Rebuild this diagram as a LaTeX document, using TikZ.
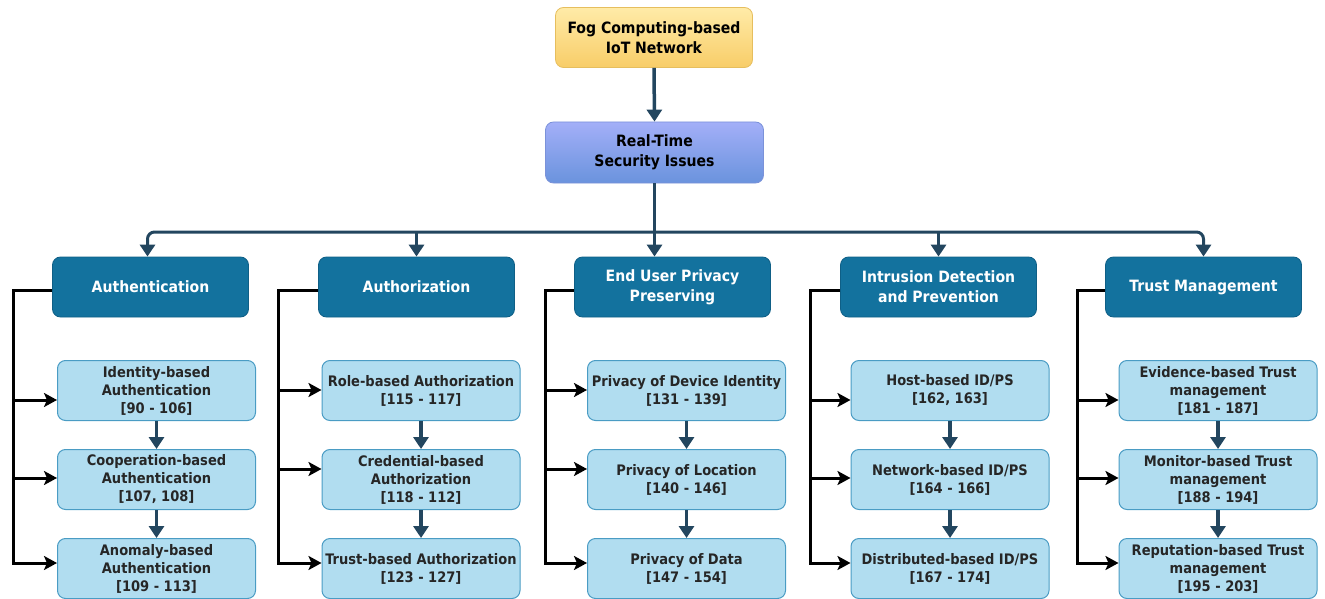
\documentclass[tikz,border=0pt]{standalone}
\usepackage{fontspec}
\setmainfont{DejaVu Sans Condensed}[BoldFont={DejaVu Sans Condensed Bold}]
\usetikzlibrary{arrows.meta,calc}
\definecolor{navy}{HTML}{23465F}
\definecolor{catblue}{HTML}{13729E}
\definecolor{catedge}{HTML}{0F5F86}
\definecolor{leaf}{HTML}{B1DDF0}
\definecolor{leafedge}{HTML}{4A9CC4}
\definecolor{fogtop}{HTML}{FFEBA8}
\definecolor{fogbot}{HTML}{F8CD68}
\definecolor{fogedge}{HTML}{E6BE5E}
\definecolor{rttop}{HTML}{A3AFF8}
\definecolor{rtbot}{HTML}{6A93DD}
\definecolor{rtedge}{HTML}{7B92D9}
\tikzset{
  x=1pt, y=-1pt,
  box/.style={rounded corners=8pt, align=center, inner sep=1pt, font=\bfseries},
  topbox/.style={box, draw=fogedge, line width=0.8pt, top color=fogtop, bottom color=fogbot,
    minimum width=197pt, minimum height=60pt, font=\fontsize{15.6}{20}\selectfont\bfseries},
  rtbox/.style={box, draw=rtedge, line width=0.8pt, top color=rttop, bottom color=rtbot,
    minimum width=218pt, minimum height=61pt, font=\fontsize{15.6}{20}\selectfont\bfseries},
  catbox/.style={box, draw=catedge, line width=0.8pt, fill=catblue, text=white,
    minimum width=196pt, minimum height=60pt, font=\fontsize{15.6}{20}\selectfont\bfseries},
  leafbox/.style={box, draw=leafedge, line width=1pt, fill=leaf, text=black!85,
    minimum width=198pt, minimum height=60pt, font=\fontsize{14.5}{18}\selectfont\bfseries},
  flow/.style={draw=navy, line width=3.5pt, -{Triangle[length=12pt,width=15pt]}},
  busline/.style={draw=navy, line width=3pt},
  railarrow/.style={draw=black, line width=3pt, -{Stealth[length=13pt,width=14pt,inset=3pt]}},
}
\begin{document}
\begin{tikzpicture}
\useasboundingbox (0,0) rectangle (1325,599);

% top of the hierarchy
\node[topbox] (fog) at (654,37.5) {Fog Computing-based\\IoT Network};
\node[rtbox] (rt) at (654.5,152.5) {Real-Time\\Security Issues};

% security categories
\node[catbox] (c1) at (150.5,287) {Authentication};
\node[catbox] (c2) at (416.5,287) {Authorization};
\node[catbox] (c3) at (672.5,287) {End User Privacy\\Preserving};
\node[catbox] (c4) at (938.5,287) {Intrusion Detection\\and Prevention};
\node[catbox] (c5) at (1203.5,287) {Trust Management};

% authentication schemes
\node[leafbox] (c1a) at (156.5,390.5) {Identity-based\\Authentication\\{[90 - 106]}};
\node[leafbox] (c1b) at (156.5,479.5) {Cooperation-based\\Authentication\\{[107, 108]}};
\node[leafbox] (c1c) at (156.5,568.5) {Anomaly-based\\Authentication\\{[109 - 113]}};

% authorization schemes
\node[leafbox] (c2a) at (421,390.5) {Role-based Authorization\\{[115 - 117]}};
\node[leafbox] (c2b) at (421,479.5) {Credential-based\\Authorization\\{[118 - 112]}};
\node[leafbox] (c2c) at (421,568.5) {Trust-based Authorization\\{[123 - 127]}};

% privacy preserving schemes
\node[leafbox] (c3a) at (686.5,390.5) {Privacy of Device Identity\\{[131 - 139]}};
\node[leafbox] (c3b) at (686.5,479.5) {Privacy of Location\\{[140 - 146]}};
\node[leafbox] (c3c) at (686.5,568.5) {Privacy of Data\\{[147 - 154]}};

% intrusion detection / prevention schemes
\node[leafbox] (c4a) at (950,390.5) {Host-based ID/PS\\{[162, 163]}};
\node[leafbox] (c4b) at (950,479.5) {Network-based ID/PS\\{[164 - 166]}};
\node[leafbox] (c4c) at (950,568.5) {Distributed-based ID/PS\\{[167 - 174]}};

% trust management schemes
\node[leafbox] (c5a) at (1218,390.5) {Evidence-based Trust\\management\\{[181 - 187]}};
\node[leafbox] (c5b) at (1218,479.5) {Monitor-based Trust\\management\\{[188 - 194]}};
\node[leafbox] (c5c) at (1218,568.5) {Reputation-based Trust\\management\\{[195 - 203]}};

% trunk and distribution bus
\coordinate (bus) at (654,232);
\draw[flow] (fog.south) -- (rt.north);
\draw[flow] (rt.south) -- (rt.south |- c3.north);
\draw[busline, rounded corners=7pt, -{Triangle[length=12pt,width=15pt]}] (bus) -| ([xshift=-3pt]c1.north);
\draw[busline, rounded corners=7pt, -{Triangle[length=12pt,width=15pt]}] (bus) -| (c5.north);
\draw[flow] (bus -| c2.north) -- (c2.north);
\draw[flow] (bus -| c4.north) -- (c4.north);

% chains inside each category
\foreach \i in {1,...,5}{
  \draw[flow] (c\i a.south) -- (c\i b.north);
  \draw[flow] (c\i b.south) -- (c\i c.north);
}

% side rails feeding every scheme
\coordinate (r1) at (13,0);
\coordinate (r2) at (278,0);
\coordinate (r3) at (545,0);
\coordinate (r4) at (810,0);
\coordinate (r5) at (1077,0);
\foreach \i/\ya/\yb in {1/9.5/-1.5, 2/-0.5/-10.5, 3/-0.5/-10.5, 4/9.5/-1.5, 5/9.5/-1.5}{
  \coordinate (s) at ([yshift=-3pt]c\i.west);
  \coordinate (ea) at ([yshift=-\ya pt]c\i a.west);
  \coordinate (eb) at ([yshift=-\yb pt]c\i b.west);
  \coordinate (ec) at ([yshift=5.5pt]c\i c.west);
  \draw[railarrow] (s) -- (r\i |- s) -- (r\i |- ec) -- (ec);
  \draw[railarrow] (r\i |- ea) -- (ea);
  \draw[railarrow] (r\i |- eb) -- (eb);
}
\end{tikzpicture}
\end{document}
